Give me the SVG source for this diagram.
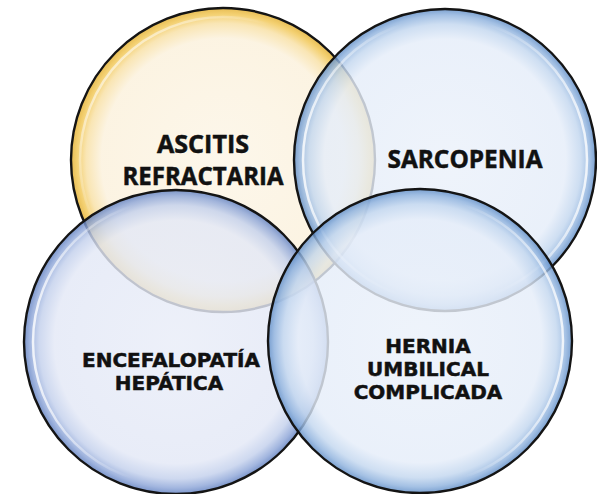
<svg xmlns="http://www.w3.org/2000/svg" width="597" height="494" viewBox="0 0 597 494">
<defs>
<radialGradient id="gY" cx="0.5" cy="0.5" r="0.5">
<stop offset="0" stop-color="#FCF5E6"/>
<stop offset="0.8" stop-color="#FBF1DC"/>
<stop offset="0.9" stop-color="#F8E0A4"/>
<stop offset="0.96" stop-color="#F1C652"/>
<stop offset="1" stop-color="#E2AE2E"/>
</radialGradient>
<radialGradient id="gB" cx="0.5" cy="0.5" r="0.5">
<stop offset="0" stop-color="#E9EDF8"/>
<stop offset="0.8" stop-color="#E3E8F6"/>
<stop offset="0.9" stop-color="#C3D0EC"/>
<stop offset="0.96" stop-color="#8EA6D8"/>
<stop offset="1" stop-color="#5F7FC0"/>
</radialGradient>
<radialGradient id="gC" cx="0.5" cy="0.5" r="0.5">
<stop offset="0" stop-color="#EBF1FA"/>
<stop offset="0.8" stop-color="#E5EDF9"/>
<stop offset="0.9" stop-color="#C3D7EF"/>
<stop offset="0.96" stop-color="#90B3DE"/>
<stop offset="1" stop-color="#5E8CC6"/>
</radialGradient>
<linearGradient id="hL" x1="0" y1="0.5" x2="0.35" y2="0.5">
<stop offset="0" stop-color="#fff" stop-opacity="0.8"/>
<stop offset="1" stop-color="#fff" stop-opacity="0"/>
</linearGradient>
<linearGradient id="hR" x1="1" y1="0.5" x2="0.65" y2="0.5">
<stop offset="0" stop-color="#fff" stop-opacity="0.8"/>
<stop offset="1" stop-color="#fff" stop-opacity="0"/>
</linearGradient>
<linearGradient id="hUL" x1="0" y1="0.1" x2="0.35" y2="0.4">
<stop offset="0" stop-color="#fff" stop-opacity="0.8"/>
<stop offset="1" stop-color="#fff" stop-opacity="0"/>
</linearGradient>
</defs>
<style>
.bub{stroke:#141414;stroke-width:2.4;fill-opacity:0.82}
.hl{fill:none;stroke-width:2.5}
.t1{font-family:"Open Sans","Noto Sans",sans-serif;font-weight:700;font-size:25px;fill:#111;stroke:#111;stroke-width:0.5;text-anchor:middle}
.t2{font-family:"DejaVu Sans",Verdana,sans-serif;font-weight:bold;font-size:20px;fill:#111;stroke:#111;stroke-width:0.5;text-anchor:middle}
</style>
<g id="node-ascitis">
<circle class="bub" cx="223" cy="160" r="152" fill="url(#gY)"/>
<circle class="hl" cx="223" cy="160" r="143" stroke="url(#hUL)"/>
</g>
<g id="node-sarcopenia">
<circle class="bub" cx="445" cy="160" r="151" fill="url(#gC)"/>
<circle class="hl" cx="445" cy="160" r="142" stroke="url(#hL)"/>
<circle class="hl" cx="445" cy="160" r="142" stroke="url(#hR)"/>
</g>
<g id="node-encefalopatia">
<circle class="bub" cx="176" cy="342" r="152" fill="url(#gB)"/>
<circle class="hl" cx="176" cy="342" r="143" stroke="url(#hL)"/>
</g>
<g id="node-hernia">
<circle class="bub" cx="420" cy="341" r="152" fill="url(#gC)"/>
<circle class="hl" cx="420" cy="341" r="143" stroke="url(#hR)"/>
</g>
<g id="labels">
<text class="t1" x="203" y="153" textLength="92" lengthAdjust="spacingAndGlyphs">ASCITIS</text>
<text class="t1" x="203" y="185" textLength="161" lengthAdjust="spacingAndGlyphs">REFRACTARIA</text>
<text class="t1" x="465" y="168" textLength="155" lengthAdjust="spacingAndGlyphs">SARCOPENIA</text>
<text class="t2" x="171" y="367">ENCEFALOPATÍA</text>
<text class="t2" x="169" y="390">HEPÁTICA</text>
<text class="t2" x="428" y="353">HERNIA</text>
<text class="t2" x="428" y="376">UMBILICAL</text>
<text class="t2" x="428" y="399">COMPLICADA</text>
</g>
<g id="connectors"/>
</svg>
